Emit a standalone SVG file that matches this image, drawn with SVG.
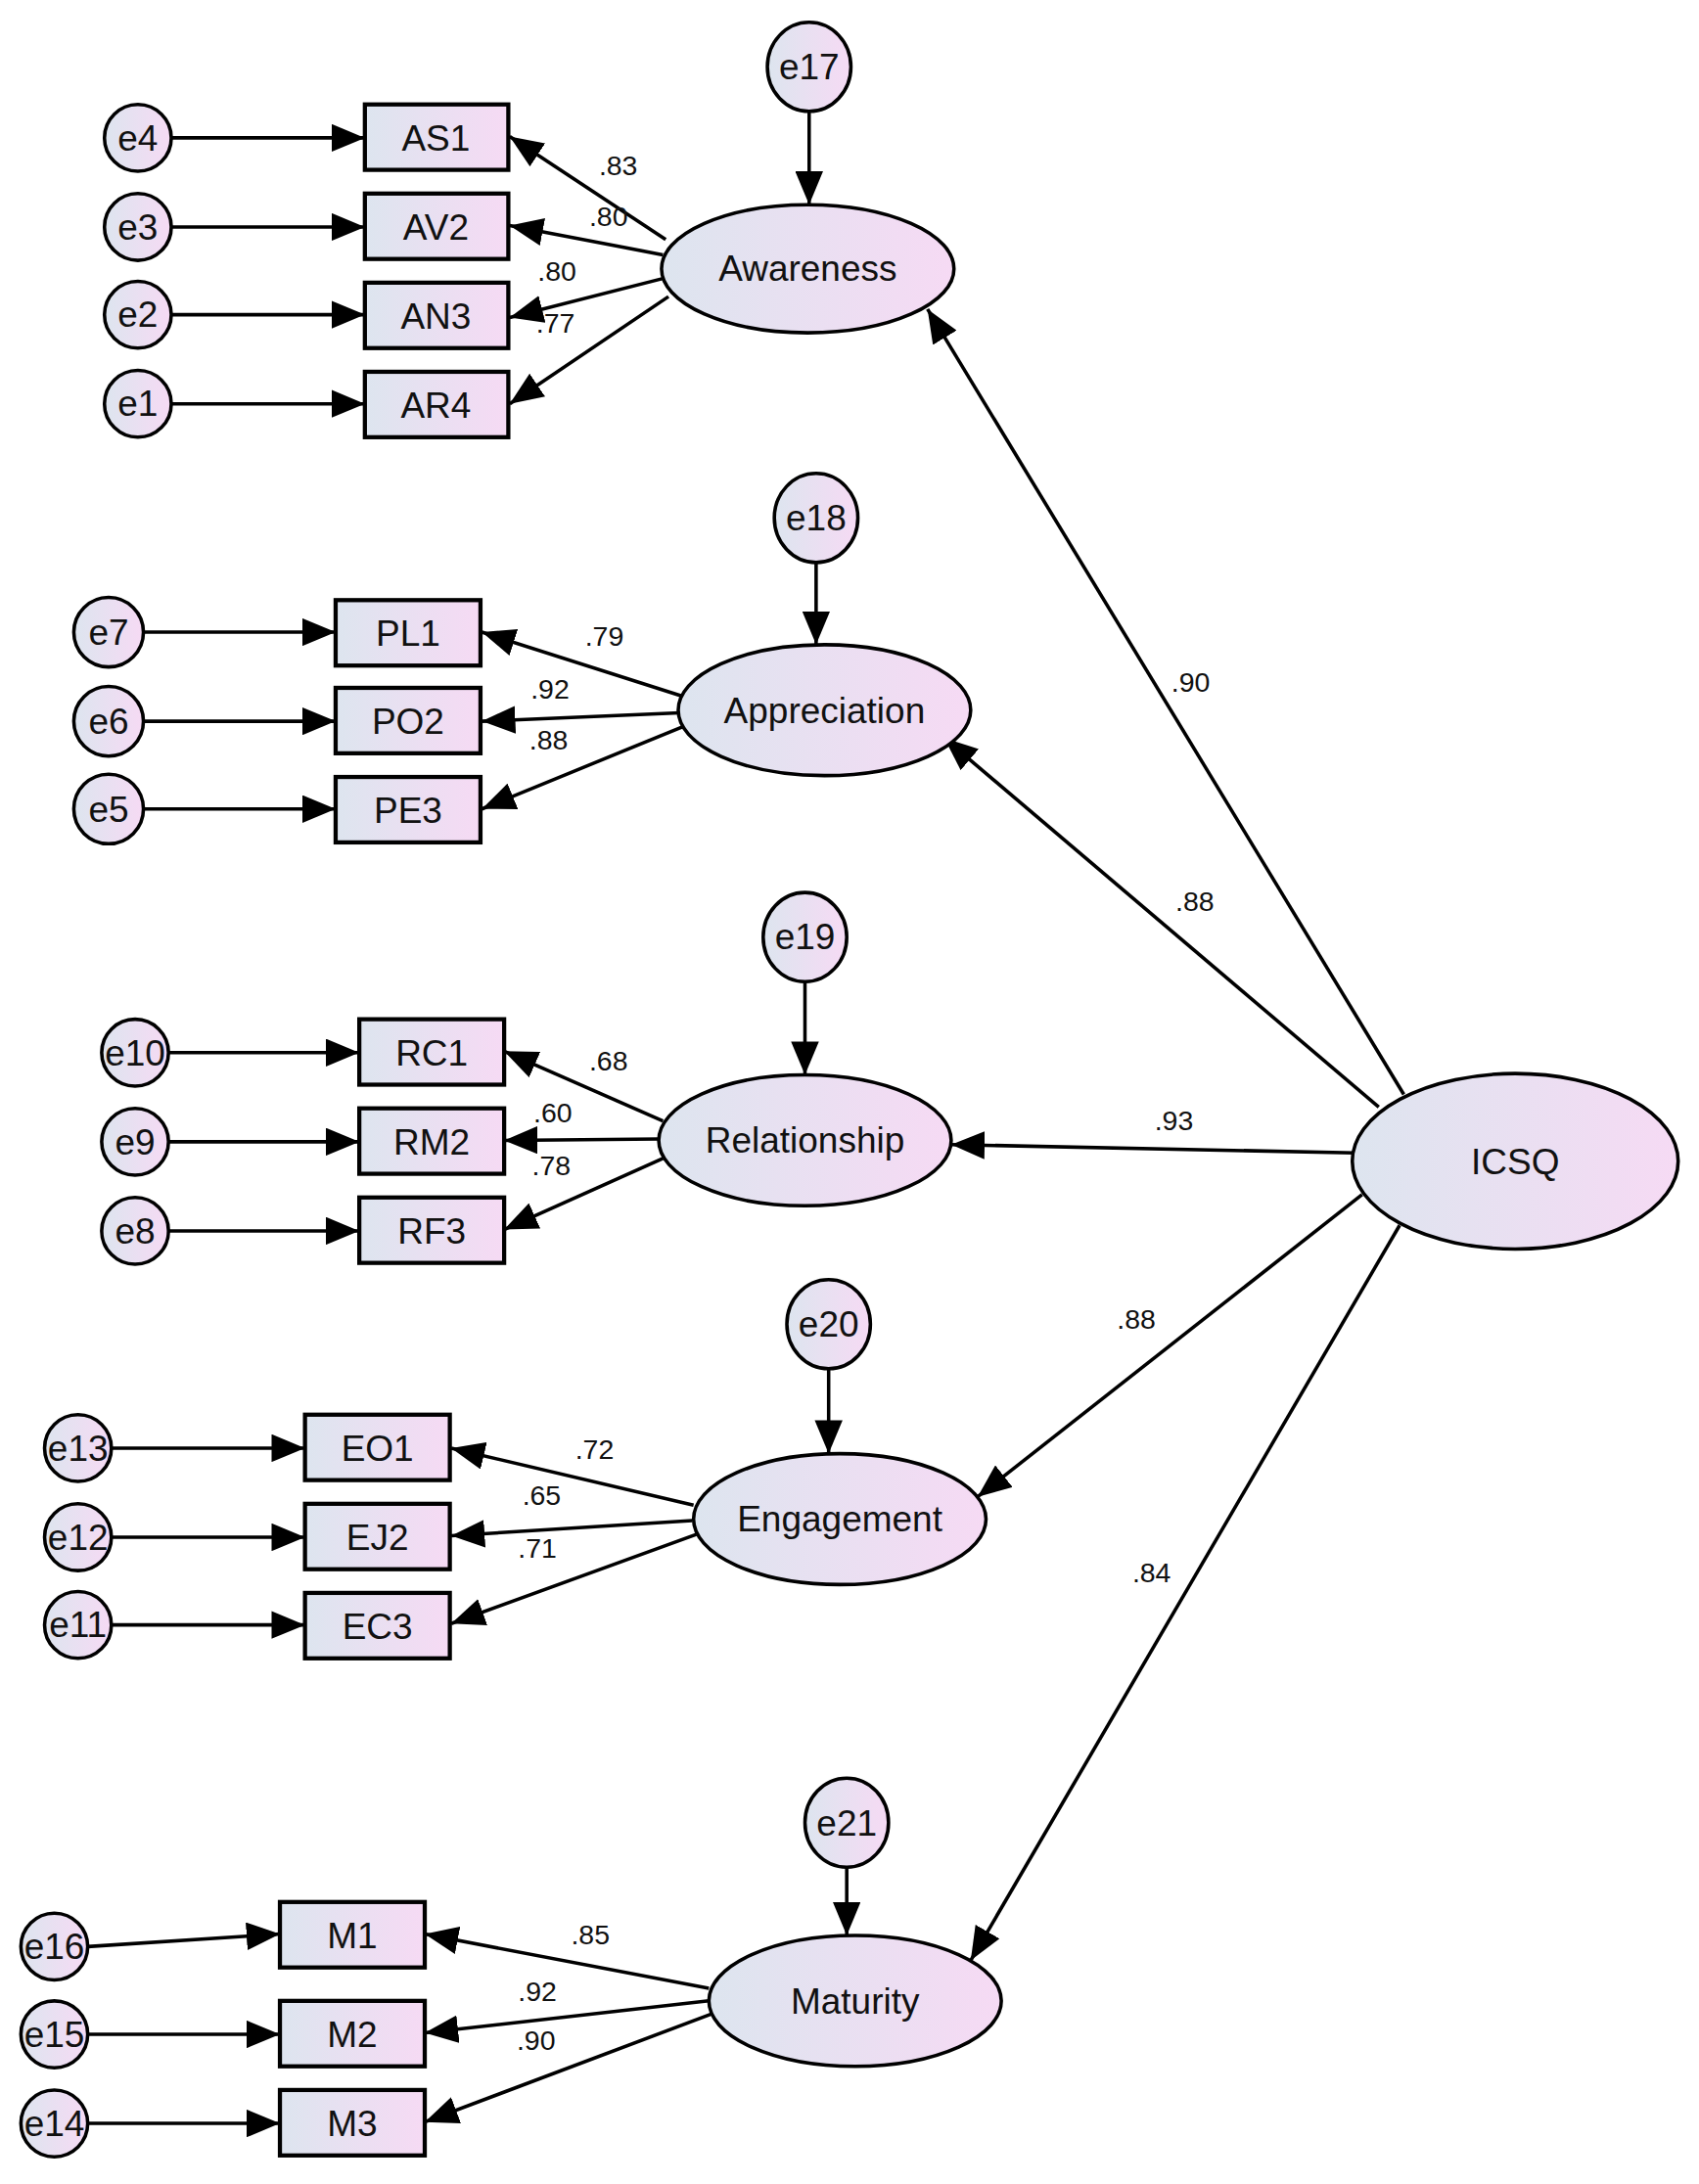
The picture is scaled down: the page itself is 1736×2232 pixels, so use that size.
<svg xmlns="http://www.w3.org/2000/svg" width="1736" height="2232" viewBox="0 0 1736 2232">
<defs>
<linearGradient id="g" x1="0" y1="0" x2="1" y2="0"><stop offset="0" stop-color="#dde5ef"/><stop offset="1" stop-color="#f6daf4"/></linearGradient>
<marker id="a" viewBox="0 0 24 20" refX="24" refY="10" markerWidth="24" markerHeight="20" markerUnits="userSpaceOnUse" orient="auto"><path d="M0,0 L24,10 L0,20 Z" fill="#000"/></marker>
<style>
.n{fill:url(#g);stroke:#000;stroke-width:2.5}
.r{fill:url(#g);stroke:#000;stroke-width:3}
.t{font-family:"Liberation Sans",Arial,sans-serif;font-size:26px;text-anchor:middle;fill:#111}
.l{font-family:"Liberation Sans",Arial,sans-serif;font-size:20px;fill:#111}
#edges line{stroke:#000;stroke-width:2.5;marker-end:url(#a)}
</style>
</defs>
<rect width="1736" height="2232" fill="#fff"/>
<g transform="scale(1.423)">
<g id="edges">
<line x1="123" y1="99" x2="262" y2="99"/><line x1="123" y1="163" x2="262" y2="163"/><line x1="123" y1="226" x2="262" y2="226"/><line x1="123" y1="290" x2="262" y2="290"/>
<line x1="581" y1="80" x2="581" y2="147"/>
<line x1="478" y1="172" x2="366" y2="98"/><line x1="476" y1="183" x2="366" y2="162"/><line x1="476" y1="200" x2="366" y2="228"/><line x1="480" y1="213" x2="366" y2="290"/>
<line x1="103" y1="454" x2="241" y2="454"/><line x1="103" y1="518" x2="241" y2="518"/><line x1="103" y1="581" x2="241" y2="581"/>
<line x1="586" y1="404" x2="586" y2="463"/>
<line x1="490" y1="500" x2="346" y2="454"/><line x1="488" y1="512" x2="346" y2="518"/><line x1="490" y1="522" x2="346" y2="581"/>
<line x1="121" y1="756" x2="258" y2="756"/><line x1="121" y1="820" x2="258" y2="820"/><line x1="121" y1="884" x2="258" y2="884"/>
<line x1="578" y1="705" x2="578" y2="772"/>
<line x1="476" y1="805" x2="362" y2="755"/><line x1="474" y1="818" x2="362" y2="819"/><line x1="476" y1="832" x2="362" y2="883"/>
<line x1="80" y1="1040" x2="219" y2="1040"/><line x1="80" y1="1104" x2="219" y2="1104"/><line x1="80" y1="1167" x2="219" y2="1167"/>
<line x1="595" y1="983" x2="595" y2="1044"/>
<line x1="498" y1="1081" x2="324" y2="1040"/><line x1="497" y1="1092" x2="324" y2="1103"/><line x1="500" y1="1102" x2="324" y2="1166"/>
<line x1="63" y1="1398" x2="201" y2="1389"/><line x1="63" y1="1461" x2="201" y2="1461"/><line x1="63" y1="1525" x2="201" y2="1525"/>
<line x1="608" y1="1340" x2="608" y2="1390"/>
<line x1="509" y1="1428" x2="305" y2="1389"/><line x1="509" y1="1437" x2="305" y2="1460"/><line x1="512" y1="1446" x2="305" y2="1524"/>
<line x1="1008" y1="786" x2="666" y2="222"/><line x1="990" y1="795" x2="678" y2="530"/><line x1="973" y1="828" x2="683" y2="822"/><line x1="978" y1="858" x2="702" y2="1075"/><line x1="1005" y1="880" x2="697" y2="1408"/>
</g>
<g id="labels" class="l">
<text x="430" y="126">.83</text><text x="423" y="162">.80</text><text x="386" y="202">.80</text><text x="385" y="239">.77</text>
<text x="420" y="464">.79</text><text x="381" y="502">.92</text><text x="380" y="538">.88</text>
<text x="841" y="497">.90</text><text x="844" y="654">.88</text>
<text x="423" y="769">.68</text><text x="383" y="806">.60</text><text x="382" y="844">.78</text>
<text x="829" y="812">.93</text><text x="802" y="954">.88</text>
<text x="413" y="1048">.72</text><text x="375" y="1081">.65</text><text x="372" y="1119">.71</text>
<text x="813" y="1136">.84</text>
<text x="410" y="1396">.85</text><text x="372" y="1437">.92</text><text x="371" y="1472">.90</text>
</g>
<g id="ICSQ"><ellipse class="n" cx="1088" cy="834" rx="117" ry="63"/><text class="t" x="1088" y="843">ICSQ</text></g>
<g id="Awareness"><ellipse class="n" cx="580" cy="193" rx="105" ry="46"/><text class="t" x="580" y="202">Awareness</text></g>
<g id="Appreciation"><ellipse class="n" cx="592" cy="510" rx="105" ry="47"/><text class="t" x="592" y="519">Appreciation</text></g>
<g id="Relationship"><ellipse class="n" cx="578" cy="819" rx="105" ry="47"/><text class="t" x="578" y="828">Relationship</text></g>
<g id="Engagement"><ellipse class="n" cx="603" cy="1091" rx="105" ry="47"/><text class="t" x="603" y="1100">Engagement</text></g>
<g id="Maturity"><ellipse class="n" cx="614" cy="1437" rx="105" ry="47"/><text class="t" x="614" y="1446">Maturity</text></g>
<g id="e17"><ellipse class="n" cx="581" cy="48" rx="30" ry="32"/><text class="t" x="581" y="57">e17</text></g>
<g id="e18"><ellipse class="n" cx="586" cy="372" rx="30" ry="32"/><text class="t" x="586" y="381">e18</text></g>
<g id="e19"><ellipse class="n" cx="578" cy="673" rx="30" ry="32"/><text class="t" x="578" y="682">e19</text></g>
<g id="e20"><ellipse class="n" cx="595" cy="951" rx="30" ry="32"/><text class="t" x="595" y="960">e20</text></g>
<g id="e21"><ellipse class="n" cx="608" cy="1309" rx="30" ry="32"/><text class="t" x="608" y="1318">e21</text></g>
<g id="AS1"><rect class="r" x="262" y="75" width="103" height="47"/><text class="t" x="313" y="108">AS1</text></g>
<g id="AV2"><rect class="r" x="262" y="139" width="103" height="47"/><text class="t" x="313" y="172">AV2</text></g>
<g id="AN3"><rect class="r" x="262" y="203" width="103" height="47"/><text class="t" x="313" y="236">AN3</text></g>
<g id="AR4"><rect class="r" x="262" y="267" width="103" height="47"/><text class="t" x="313" y="300">AR4</text></g>
<g id="PL1"><rect class="r" x="241" y="431" width="104" height="47"/><text class="t" x="293" y="464">PL1</text></g>
<g id="PO2"><rect class="r" x="241" y="494" width="104" height="47"/><text class="t" x="293" y="527">PO2</text></g>
<g id="PE3"><rect class="r" x="241" y="558" width="104" height="47"/><text class="t" x="293" y="591">PE3</text></g>
<g id="RC1"><rect class="r" x="258" y="732" width="104" height="47"/><text class="t" x="310" y="765">RC1</text></g>
<g id="RM2"><rect class="r" x="258" y="796" width="104" height="47"/><text class="t" x="310" y="829">RM2</text></g>
<g id="RF3"><rect class="r" x="258" y="860" width="104" height="47"/><text class="t" x="310" y="893">RF3</text></g>
<g id="EO1"><rect class="r" x="219" y="1016" width="104" height="47"/><text class="t" x="271" y="1049">EO1</text></g>
<g id="EJ2"><rect class="r" x="219" y="1080" width="104" height="47"/><text class="t" x="271" y="1113">EJ2</text></g>
<g id="EC3"><rect class="r" x="219" y="1144" width="104" height="47"/><text class="t" x="271" y="1177">EC3</text></g>
<g id="M1"><rect class="r" x="201" y="1366" width="104" height="47"/><text class="t" x="253" y="1399">M1</text></g>
<g id="M2"><rect class="r" x="201" y="1437" width="104" height="47"/><text class="t" x="253" y="1470">M2</text></g>
<g id="M3"><rect class="r" x="201" y="1501" width="104" height="47"/><text class="t" x="253" y="1534">M3</text></g>
<g id="e4"><circle class="n" cx="99" cy="99" r="24"/><text class="t" x="99" y="108">e4</text></g>
<g id="e3"><circle class="n" cx="99" cy="163" r="24"/><text class="t" x="99" y="172">e3</text></g>
<g id="e2"><circle class="n" cx="99" cy="226" r="24"/><text class="t" x="99" y="235">e2</text></g>
<g id="e1"><circle class="n" cx="99" cy="290" r="24"/><text class="t" x="99" y="299">e1</text></g>
<g id="e7"><circle class="n" cx="78" cy="454" r="25"/><text class="t" x="78" y="463">e7</text></g>
<g id="e6"><circle class="n" cx="78" cy="518" r="25"/><text class="t" x="78" y="527">e6</text></g>
<g id="e5"><circle class="n" cx="78" cy="581" r="25"/><text class="t" x="78" y="590">e5</text></g>
<g id="e10"><circle class="n" cx="97" cy="756" r="24"/><text class="t" x="97" y="765">e10</text></g>
<g id="e9"><circle class="n" cx="97" cy="820" r="24"/><text class="t" x="97" y="829">e9</text></g>
<g id="e8"><circle class="n" cx="97" cy="884" r="24"/><text class="t" x="97" y="893">e8</text></g>
<g id="e13"><circle class="n" cx="56" cy="1040" r="24"/><text class="t" x="56" y="1049">e13</text></g>
<g id="e12"><circle class="n" cx="56" cy="1104" r="24"/><text class="t" x="56" y="1113">e12</text></g>
<g id="e11"><circle class="n" cx="56" cy="1167" r="24"/><text class="t" x="56" y="1176">e11</text></g>
<g id="e16"><circle class="n" cx="39" cy="1398" r="24"/><text class="t" x="39" y="1407">e16</text></g>
<g id="e15"><circle class="n" cx="39" cy="1461" r="24"/><text class="t" x="39" y="1470">e15</text></g>
<g id="e14"><circle class="n" cx="39" cy="1525" r="24"/><text class="t" x="39" y="1534">e14</text></g>
</g>
</svg>
